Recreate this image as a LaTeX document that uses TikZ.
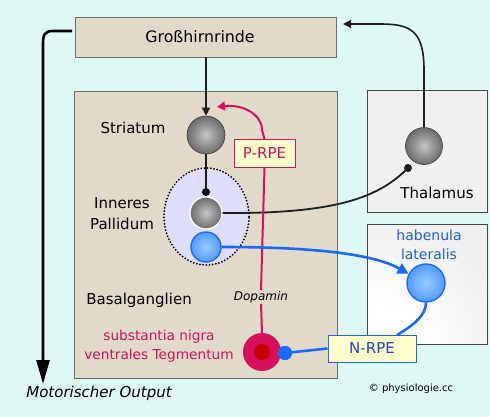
\documentclass[tikz,border=0pt]{standalone}
\usepackage{fontspec}
\setmainfont{DejaVu Sans}
\usetikzlibrary{arrows.meta,shapes.geometric,calc}

\definecolor{bgc}{RGB}{222,248,243}
\definecolor{tan}{RGB}{225,218,203}
\definecolor{boxline}{RGB}{110,110,110}
\definecolor{boxdark}{RGB}{70,70,70}
\definecolor{lgray}{RGB}{240,240,240}
\definecolor{lav}{RGB}{222,222,252}
\definecolor{crim}{RGB}{214,16,90}
\definecolor{dred}{RGB}{200,0,0}
\definecolor{nblue}{RGB}{25,105,255}
\definecolor{tblue}{RGB}{30,95,225}
\definecolor{nrpetxt}{RGB}{30,70,190}
\definecolor{ybox}{RGB}{255,255,204}
\definecolor{linegray}{RGB}{30,30,30}

\pgfdeclareradialshading{neurongray}{\pgfpoint{0bp}{0bp}}{color(0bp)=(black!22); color(12bp)=(black!40); color(34bp)=(black!70); color(50bp)=(black!90); color(70bp)=(black!90)}
\pgfdeclareradialshading{neuronblue}{\pgfpoint{0bp}{0bp}}{color(0bp)=(rgb,255:red,150;green,205;blue,255); color(20bp)=(rgb,255:red,95;green,165;blue,255); color(50bp)=(rgb,255:red,35;green,110;blue,255); color(70bp)=(rgb,255:red,35;green,110;blue,255)}
\pgfdeclareradialshading{habshade}{\pgfpoint{-28bp}{-38bp}}{color(0bp)=(white); color(22bp)=(white); color(48bp)=(rgb,255:red,240;green,240;blue,240); color(120bp)=(rgb,255:red,240;green,240;blue,240)}

\tikzset{
  box/.style={draw=boxline, line width=0.8pt, fill=tan},
  sidebox/.style={draw=boxdark, line width=1pt, fill=lgray, minimum width=120pt, minimum height=120pt},
  neuron/.style={circle, inner sep=0pt, minimum size=#1},
  grayn/.style={shading=neurongray, draw=black!75, line width=0.6pt},
  bluen/.style={shading=neuronblue, draw=nblue, line width=1.4pt},
  dotn/.style={circle, inner sep=0pt, minimum size=#1},
  rpebox/.style={draw=#1, line width=1pt, fill=ybox, inner sep=0pt, minimum height=28pt},
  lbl/.style={inner sep=0pt, font=\fontsize{15}{18}\selectfont},
  blk/.style={draw=linegray, line width=1.6pt},
  bl/.style={draw=nblue, line width=2.6pt},
  rd/.style={draw=crim, line width=2pt},
}

\begin{document}
\begin{tikzpicture}[x=1pt,y=-1pt]
\fill[bgc] (0,0) rectangle (490,417);
\useasboundingbox (0,0) rectangle (490,417);

% boxes
\node[box, minimum width=261pt, minimum height=40pt] (cortex) at (205.5,37) {};
\node[box, minimum width=263pt, minimum height=287pt] (bg) at (205.5,234.5) {};
\node[sidebox, minimum height=121pt] (thalbox) at (427,151.5) {};
\node[sidebox, shading=habshade] (habbox) at (427,284) {};

% pallidum
\node[ellipse, draw=black, fill=lav, line width=2pt, dash pattern=on 0pt off 3.2pt, line cap=round, minimum width=85pt, minimum height=97pt] (gp) at (206.5,216.5) {};

% neurons
\node[neuron=38pt, grayn] (str) at (206,135) {};
\node[neuron=32pt, grayn, draw=white, line width=1.2pt] (gpi) at (206,213) {};
\node[dotn=8pt, fill=black] (gpdot) at (206,192) {};
\node[neuron=30pt, bluen] (gpb) at (206,247) {};
\node[neuron=37pt, grayn] (thal) at (424,146) {};
\node[dotn=8pt, fill=linegray] (thaldot) at (408,168) {};
\node[neuron=38pt, bluen] (hab) at (426,283) {};
\node[neuron=38pt, fill=crim] (sn) at (262,352) {};
\node[dotn=16pt, fill=dred] (snin) at (262,352) {};
\node[dotn=14pt, fill=nblue] (sndot) at (285,353) {};

% boxes with RPE
\node[rpebox=crim, minimum width=61pt] (prpe) at (264.5,153.5) {\fontsize{15}{18}\selectfont\color{crim}P-RPE};
\node[rpebox=nblue, minimum width=88pt, minimum height=27pt] (nrpe) at (372,348.5) {\fontsize{15}{18}\selectfont\color{nrpetxt}N-RPE};
\node[inner sep=1pt, font=\itshape\fontsize{12}{14}\selectfont] (dopa) at (261,297) {Dopamin};

% coordinates for free ends
\coordinate (ctxin) at (343,24);
\coordinate (ctxout) at (72,31);
\coordinate (motor) at (43,384);

% connectors
\draw[blk, -{Triangle[length=8pt,width=8pt]}] (str |- cortex.south) -- (str.north);
\draw[blk] (str.south) -- (gpdot.center);
\draw[blk, line width=1.8pt] (gpi.east) .. controls (340,214) and (380,196) .. (thaldot.center);
\draw[blk, -{Triangle[length=8pt,width=8pt]}] (thal.north) -- (424,70) .. controls (424,30) and (410,24) .. (380,24) -- (ctxin);
\draw[draw=black, line width=2.6pt, -{Triangle[length=24pt,width=13pt]}] (ctxout) -- (53,31) .. controls (44,31) and (43,35) .. (43,45) -- (motor);

\draw[rd] (sn.north) -- (dopa.south);
\draw[rd] (dopa.north) -- (prpe.south);
\draw[rd, -{Triangle[length=8pt,width=9pt]}] (prpe.north) -- (262,130) .. controls (262,114) and (242,104) .. (217,107);

\draw[bl, -{Triangle[length=11pt,width=11pt]}] (gpb.east) .. controls (300,247) and (370,252) .. (hab.152);
\draw[bl] (sndot.center) -- (nrpe.west);
\draw[bl] (397,335) .. controls (414,325) and (426,315) .. (hab.south);

% redraw boxes on top of lines
\node[rpebox=nblue, minimum width=88pt, minimum height=27pt] at (nrpe) {\fontsize{15}{18}\selectfont\color{nrpetxt}N-RPE};
\node[rpebox=crim, minimum width=61pt] at (prpe) {\fontsize{15}{18}\selectfont\color{crim}P-RPE};
\node[dotn=14pt, fill=nblue] at (sndot) {};

% labels
\node[lbl, font=\fontsize{15.8}{18}\selectfont] (tctx) at (200,37) {Großhirnrinde};
\node[lbl] (tstr) at (133,128) {Striatum};
\node[lbl, align=center, font=\fontsize{15}{21}\selectfont] (tgp) at (122,214) {Inneres\\Pallidum};
\node[lbl] (tbg) at (139,300) {Basalganglien};
\node[lbl, align=center, text=crim, font=\fontsize{13.7}{19.5}\selectfont] (tsn) at (159,346) {substantia nigra\\ventrales Tegmentum};
\node[lbl] (tthal) at (437,193) {Thalamus};
\node[lbl, align=center, text=tblue, font=\fontsize{14}{19.5}\selectfont] (thab) at (429,245) {habenula\\lateralis};
\node[lbl, font=\fontsize{10}{12}\selectfont] (tcopy) at (411,389) {© physiologie.cc};
\node[lbl, font=\itshape\fontsize{15}{18}\selectfont] (tmot) at (99,393) {Motorischer Output};
\end{tikzpicture}
\end{document}
